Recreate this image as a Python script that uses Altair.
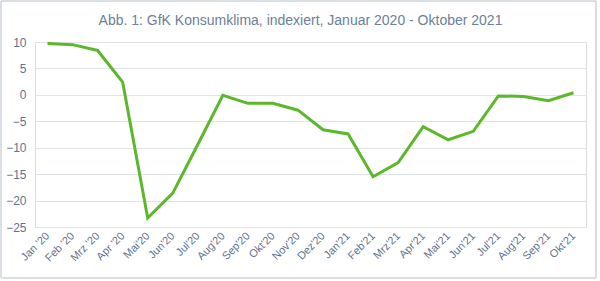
import altair as alt
import pandas as pd

months = ["Jan '20", "Feb '20", "Mrz '20", "Apr '20", "Mai'20", "Jun'20", "Jul'20",
          "Aug'20", "Sep'20", "Okt'20", "Nov'20", "Dez'20", "Jan'21", "Feb'21",
          "Mrz'21", "Apr'21", "Mai'21", "Jun'21", "Jul'21", "Aug'21", "Sep'21", "Okt'21"]
values = [9.7, 9.5, 8.4, 2.4, -23.3, -18.6, -9.4, -0.1, -1.6, -1.6, -2.9, -6.6,
          -7.4, -15.5, -12.8, -6.0, -8.5, -6.9, -0.2, -0.3, -1.1, 0.4]
y_ticks = [10, 5, 0, -5, -10, -15, -20, -25]

df = pd.DataFrame({"Monat": months, "Wert": values})

FONT = "Liberation Sans"
LABEL_COLOR = "#5f7390"

line = alt.Chart(df).mark_line(color="#5cb82a", strokeWidth=3).encode(
    x=alt.X("Monat:N", sort=months, title=None,
            scale=alt.Scale(paddingInner=0, paddingOuter=0),
            axis=alt.Axis(labelAngle=-45, labelAlign="right", labelBaseline="middle",
                          labelPadding=7, ticks=False, domain=False, grid=False,
                          labelFont=FONT, labelFontSize=11, labelColor=LABEL_COLOR)),
    y=alt.Y("Wert:Q", title=None,
            scale=alt.Scale(domain=[-25, 10], nice=False, zero=False),
            axis=alt.Axis(values=y_ticks, ticks=False, domain=False, grid=True,
                          gridColor="#dfe4eb", gridWidth=1.2, labelPadding=9,
                          labelFont=FONT, labelFontSize=12, labelColor=LABEL_COLOR)),
)

border = alt.Chart(df).mark_rect(fill=None, stroke="#d9dee5", strokeWidth=1).encode(
    x=alt.value(-34), x2=alt.value(561), y=alt.value(-41), y2=alt.value(236)
)

chart = alt.layer(line, border).properties(
    width=551, height=185,
    title=alt.TitleParams("Abb. 1: GfK Konsumklima, indexiert, Januar 2020 - Oktober 2021",
                          font=FONT, fontSize=14, fontWeight="normal",
                          color="#6c809a", anchor="middle", dx=-10, offset=0, dy=27),
    padding={"left": 35, "top": 42, "right": 14, "bottom": 54},
    autosize=alt.AutoSizeParams(type="none"),
).configure_view(stroke=None).configure(background="white")

chart.save("out.html", embed_options={"renderer": "svg", "actions": False})
